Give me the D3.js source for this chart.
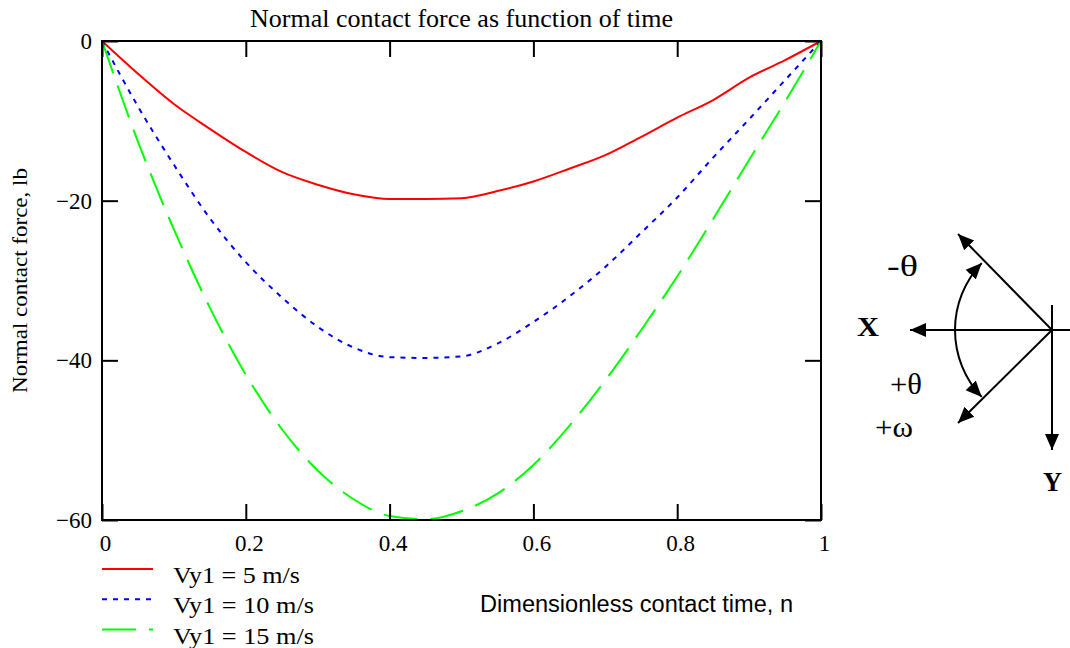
<!DOCTYPE html>
<html>
<head>
<meta charset="utf-8">
<script src="https://cdn.jsdelivr.net/npm/d3@7"></script>
<style>
  body { margin: 0; background: #fff; }
  svg { display: block; }
</style>
</head>
<body>
<div id="plot"></div>
<script>
// Dimensionless contact time samples
const nValues = [0, 0.05, 0.1, 0.15, 0.2, 0.25, 0.3, 0.35, 0.4, 0.45, 0.5,
                 0.55, 0.6, 0.65, 0.7, 0.75, 0.8, 0.85, 0.9, 0.95, 1];

// Normal contact force (lb), one array per impact speed
const force5 = [0, -4.1, -7.9, -11.0, -13.9, -16.4, -18.0, -19.2, -19.8, -19.8, -19.7,
                -18.8, -17.6, -16.0, -14.3, -12.0, -9.6, -7.4, -4.6, -2.4, 0];
const force10 = [0, -8.2, -15.5, -22.2, -27.7, -32.1, -35.8, -38.4, -39.6, -39.7, -39.5,
                 -37.9, -35.2, -32.0, -28.3, -24.0, -19.6, -14.6, -9.8, -4.9, 0];
const force15 = [0, -12.6, -23.6, -33.4, -41.8, -48.6, -53.8, -57.4, -59.5, -59.9, -58.9,
                 -56.7, -53.1, -48.2, -42.5, -36.2, -29.5, -22.3, -14.9, -7.6, 0];

const seriesLabels = ["Vy1 = 5 m/s", "Vy1 = 10 m/s", "Vy1 = 15 m/s"];
const xTicks = [0, 0.2, 0.4, 0.6, 0.8, 1];
const yTicks = [0, -20, -40, -60];

const width = 1070;
const height = 648;
const plot = {left: 102, right: 821, top: 41, bottom: 520};

const svg = d3.select("#plot")
  .append("svg")
  .attr("width", width)
  .attr("height", height)
  .style("font-family", "'Liberation Serif', 'Times New Roman', serif");

const x = d3.scaleLinear().domain([0, 1]).range([plot.left, plot.right]);
const y = d3.scaleLinear().domain([-60, 0]).range([plot.bottom, plot.top]);

const series = [
  {label: seriesLabels[0], values: force5, color: "#ff0000", dash: null, textLen: 127},
  {label: seriesLabels[1], values: force10, color: "#0000ff", dash: "5,6", textLen: 141},
  {label: seriesLabels[2], values: force15, color: "#00ff00", dash: "34,13", textLen: 141}
];

// Title
svg.append("text")
  .attr("x", (plot.left + plot.right) / 2)
  .attr("y", 27)
  .attr("text-anchor", "middle")
  .style("font-size", "26px")
  .text("Normal contact force as function of time");

// Curves
const line = d3.line()
  .x((d, i) => x(nValues[i]))
  .y(d => y(d))
  .curve(d3.curveMonotoneX);

series.forEach(s => {
  svg.append("path")
    .datum(s.values)
    .attr("d", line)
    .attr("fill", "none")
    .attr("stroke", s.color)
    .attr("stroke-width", 2)
    .attr("stroke-dasharray", s.dash);
});

// Frame
svg.append("rect")
  .attr("x", plot.left)
  .attr("y", plot.top)
  .attr("width", plot.right - plot.left)
  .attr("height", plot.bottom - plot.top)
  .attr("fill", "none")
  .attr("stroke", "#000")
  .attr("stroke-width", 2);

function styleAxis(g) {
  g.select(".domain").remove();
  g.selectAll(".tick line").attr("stroke", "#000").attr("stroke-width", 2);
  g.selectAll(".tick text")
    .attr("fill", "#000")
    .style("font-family", "'Liberation Serif', 'Times New Roman', serif")
    .style("font-size", "23px");
}

// Axes with inward ticks on all four sides
svg.append("g")
  .attr("transform", `translate(0,${plot.bottom})`)
  .call(d3.axisBottom(x).tickValues(xTicks).tickSize(-16).tickPadding(15).tickFormat(d3.format("~g")))
  .call(styleAxis)
  .selectAll(".tick text").attr("dx", 3);

svg.append("g")
  .attr("transform", `translate(0,${plot.top})`)
  .call(d3.axisTop(x).tickValues(xTicks).tickSize(-16).tickFormat(""))
  .call(styleAxis);

svg.append("g")
  .attr("transform", `translate(${plot.left},0)`)
  .call(d3.axisLeft(y).tickValues(yTicks).tickSize(-16).tickPadding(10).tickFormat(d3.format("d")))
  .call(styleAxis);

svg.append("g")
  .attr("transform", `translate(${plot.right},0)`)
  .call(d3.axisRight(y).tickValues(yTicks).tickSize(-16).tickFormat(""))
  .call(styleAxis);

// Axis titles
svg.append("text")
  .attr("transform", `translate(27,${(plot.top + plot.bottom) / 2}) rotate(-90)`)
  .attr("text-anchor", "middle")
  .attr("textLength", 225)
  .attr("lengthAdjust", "spacingAndGlyphs")
  .style("font-size", "22px")
  .text("Normal contact force, lb");

svg.append("text")
  .attr("x", 480)
  .attr("y", 612)
  .attr("textLength", 313)
  .attr("lengthAdjust", "spacingAndGlyphs")
  .style("font-family", "'Liberation Sans', Arial, sans-serif")
  .style("font-size", "23px")
  .text("Dimensionless contact time, n");

// Legend
const legend = svg.append("g").attr("transform", "translate(102,569)");
series.forEach((s, i) => {
  legend.append("line")
    .attr("x1", 0).attr("x2", 51)
    .attr("y1", i * 30.3).attr("y2", i * 30.3)
    .attr("stroke", s.color)
    .attr("stroke-width", 2)
    .attr("stroke-dasharray", s.dash);
  legend.append("text")
    .attr("x", 71)
    .attr("y", i * 30.3 + 14)
    .attr("textLength", s.textLen)
    .attr("lengthAdjust", "spacingAndGlyphs")
    .style("font-size", "23px")
    .text(s.label);
});

// Sign convention sketch
const defs = svg.append("defs");
defs.append("marker")
  .attr("id", "arrow")
  .attr("markerUnits", "userSpaceOnUse")
  .attr("viewBox", "0 -8 16 16")
  .attr("refX", 16).attr("refY", 0)
  .attr("markerWidth", 16).attr("markerHeight", 16)
  .attr("orient", "auto")
  .append("path")
  .attr("d", "M0,-7L16,0L0,7Z")
  .attr("fill", "#000");

const origin = [1052, 330];
const sketch = svg.append("g")
  .attr("stroke", "#000")
  .attr("stroke-width", 2)
  .attr("fill", "none");

sketch.append("line")
  .attr("x1", origin[0]).attr("y1", origin[1] - 25)
  .attr("x2", origin[0]).attr("y2", origin[1] + 120)
  .attr("marker-end", "url(#arrow)");
sketch.append("line")
  .attr("x1", origin[0] + 25).attr("y1", origin[1])
  .attr("x2", origin[0] - 142).attr("y2", origin[1])
  .attr("marker-end", "url(#arrow)");
sketch.append("line")
  .attr("x1", origin[0]).attr("y1", origin[1])
  .attr("x2", origin[0] - 94).attr("y2", origin[1] - 96)
  .attr("marker-end", "url(#arrow)");
sketch.append("line")
  .attr("x1", origin[0]).attr("y1", origin[1])
  .attr("x2", origin[0] - 94).attr("y2", origin[1] + 93)
  .attr("marker-end", "url(#arrow)");

const r = 97;
const a = 43.6 * Math.PI / 180;
const start = [origin[0] - r, origin[1]];
sketch.append("path")
  .attr("d", `M${start}A${r},${r} 0 0 1 ${origin[0] - r * Math.cos(a)},${origin[1] - r * Math.sin(a)}`)
  .attr("marker-end", "url(#arrow)");
sketch.append("path")
  .attr("d", `M${start}A${r},${r} 0 0 0 ${origin[0] - r * Math.cos(a)},${origin[1] + r * Math.sin(a)}`)
  .attr("marker-end", "url(#arrow)");

const sketchLabels = [
  {text: "-\u03b8", x: 887, y: 276, len: 31, size: 30, bold: false},
  {text: "+\u03b8", x: 890, y: 394, len: 32, size: 30, bold: false},
  {text: "+\u03c9", x: 875, y: 437, len: 38, size: 30, bold: false},
  {text: "X", x: 857, y: 336, len: 22, size: 27, bold: true},
  {text: "Y", x: 1043, y: 491, len: 19, size: 28, bold: true}
];
svg.selectAll(".sketch-label")
  .data(sketchLabels)
  .join("text")
  .attr("class", "sketch-label")
  .attr("x", d => d.x)
  .attr("y", d => d.y)
  .attr("textLength", d => d.len)
  .attr("lengthAdjust", "spacingAndGlyphs")
  .style("font-size", d => d.size + "px")
  .style("font-weight", d => d.bold ? "bold" : "normal")
  .text(d => d.text);
</script>
</body>
</html>
